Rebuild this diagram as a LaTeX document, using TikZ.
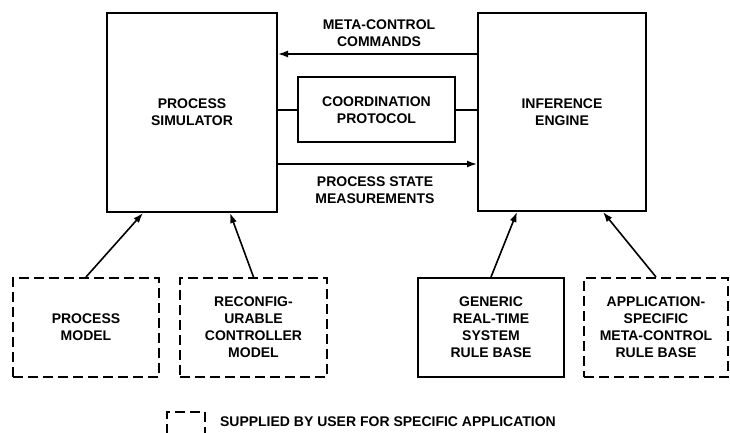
\documentclass[tikz,border=0pt]{standalone}
\usepackage{fontspec}
\setsansfont{Liberation Sans}
\usepackage{tikz}
\usetikzlibrary{arrows.meta}

\tikzset{
    block/.style={draw, line width=1pt, align=center, font=\sffamily\bfseries\fontsize{7}{8.5}\selectfont},
    userblock/.style={block, dash pattern=on 5pt off 2.5pt},
    arr/.style={line width=0.8pt, -{Latex[length=5pt,width=3.5pt]}},
    lbl/.style={align=center, font=\sffamily\bfseries\fontsize{7}{8.5}\selectfont}
}

\begin{document}
\begin{tikzpicture}[x=0.5pt,y=-0.5pt]
        \useasboundingbox (0,0) rectangle (730,433);
        \clip (0,0) rectangle (730,433);
        % top row
        \node[block, minimum width=85pt, minimum height=99.5pt] (sim) at (192,112.5) {PROCESS\\SIMULATOR};
        \node[block, minimum width=84pt, minimum height=99pt] (eng) at (562,112) {INFERENCE\\ENGINE};
        \node[block, minimum width=78.5pt, minimum height=32.5pt] (coord) at (376.5,110) {COORDINATION\\PROTOCOL};
        % bottom row
        \node[userblock, minimum width=73pt, minimum height=49.5pt] (pmodel) at (86,327.5) {PROCESS\\MODEL};
        \node[userblock, minimum width=73.5pt, minimum height=49.5pt] (cmodel) at (253.5,327.5) {RECONFIG-\\URABLE\\CONTROLLER\\MODEL};
        \node[block, minimum width=73pt, minimum height=49.5pt] (rules) at (491,327.5) {GENERIC\\REAL-TIME\\SYSTEM\\RULE BASE};
        \node[userblock, minimum width=72pt, minimum height=49.5pt] (meta) at (656,327.5) {APPLICATION-\\SPECIFIC\\META-CONTROL\\RULE BASE};
        % links between the two engines
        \draw[arr] (eng.west |- 0,54) -- (sim.east |- 0,54);
        \draw[arr] (sim.east |- 0,164) -- (eng.west |- 0,164);
        \draw[line width=0.8pt] (sim.east |- coord.west) -- (coord.west);
        \draw[line width=0.8pt] (coord.east) -- (eng.west |- coord.east);
        \node[lbl] (cmds) at (379,33.5) {META-CONTROL\\COMMANDS};
        \node[lbl] (meas) at (375,190.5) {PROCESS STATE\\MEASUREMENTS};
        % inputs from below
        \draw[arr] (pmodel.north) -- (sim.south -| 143,0);
        \draw[arr] (cmodel.north) -- (sim.south -| 230,0);
        \draw[arr] (rules.north) -- (eng.south -| 517,0);
        \draw[arr] (meta.north) -- (eng.south -| 603,0);
        % key
        \node[userblock, minimum width=19pt, minimum height=16pt] (key) at (186,428) {};
        \node[lbl, anchor=west] (keytext) at (213,422) {SUPPLIED BY USER FOR SPECIFIC APPLICATION};
    \end{tikzpicture}
\end{document}
